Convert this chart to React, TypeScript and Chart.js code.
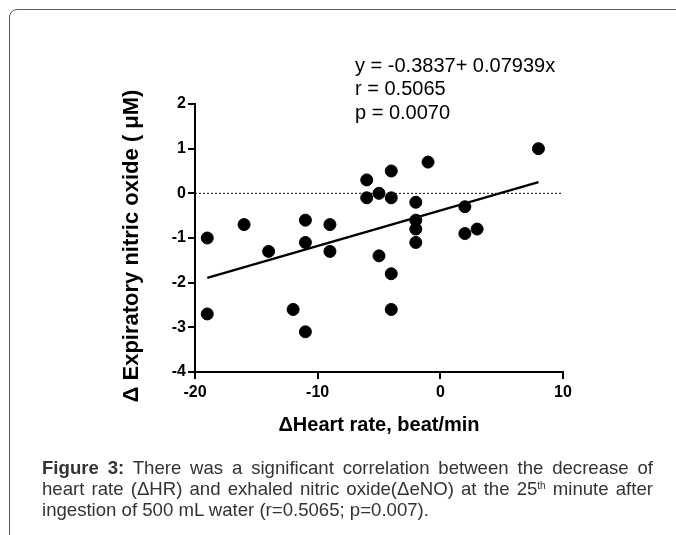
import React, { useEffect, useRef } from "react";
import { Chart, registerables } from "chart.js";

Chart.register(...registerables);

// Data
const xValues = [-19, -19, -16, -14, -12, -11, -11, -11, -9, -9, -6, -6, -5, -5, -4, -4, -4, -4, -1, -2, -2, -2, -2, 2, 2, 3, 8];
const yValues = [-1.0, -2.7, -0.7, -1.3, -2.6, -0.6, -1.1, -3.1, -0.7, -1.3, 0.3, -0.1, 0.0, -1.4, 0.5, -0.1, -1.8, -2.6, 0.7, -0.2, -0.6, -0.8, -1.1, -0.3, -0.9, -0.8, 1.0];
const fitX = [-19, 8];
const fitY = [-1.892, 0.251];
const refX = [-20, 10];
const refY = [0, 0];
const xTicks = [-20, -10, 0, 10];
const yTicks = [-4, -3, -2, -1, 0, 1, 2];
const statLines = ["y = -0.3837+ 0.07939x", "r = 0.5065", "p = 0.0070"];
const xTitle = "\u0394Heart rate, beat/min";
const yTitle = "\u0394 Expiratory nitric oxide ( \u03bcM)";

const FONT = '"Liberation Sans", Arial, Helvetica, sans-serif';

const textPlugin = {
  id: "texts",
  afterDraw(chart: any) {
    const ctx = chart.ctx;
    ctx.save();
    ctx.font = `20px ${FONT}`;
    ctx.fillStyle = "#000";
    ctx.textBaseline = "middle";
    ctx.textAlign = "left";
    statLines.forEach((t, i) => ctx.fillText(t, 355, 66 + i * 23.5));
    // rotated y-axis title
    const area = chart.chartArea;
    ctx.translate(132, (area.top + area.bottom) / 2 + 8);
    ctx.rotate(-Math.PI / 2);
    ctx.font = `bold 22px ${FONT}`;
    ctx.textAlign = "center";
    ctx.fillText(yTitle, 0, 0);
    ctx.restore();
  },
};

export default function App() {
  const ref = useRef<HTMLCanvasElement | null>(null);

  useEffect(() => {
    if (!ref.current) return;
    const pts = (xs: number[], ys: number[]) => xs.map((x, i) => ({ x, y: ys[i] }));
    const chart = new Chart(ref.current, {
      type: "scatter",
      data: {
        datasets: [
          {
            type: "line",
            data: pts(refX, refY),
            borderColor: "#000",
            borderWidth: 1,
            borderDash: [2, 2],
            pointRadius: 0,
            fill: false,
          },
          {
            type: "line",
            data: pts(fitX, fitY),
            borderColor: "#000",
            borderWidth: 2.5,
            pointRadius: 0,
            fill: false,
          },
          {
            data: pts(xValues, yValues),
            backgroundColor: "#000",
            borderColor: "#000",
            pointRadius: 6,
            pointHoverRadius: 6,
          },
        ],
      } as any,
      options: {
        responsive: false,
        animation: false,
        devicePixelRatio: 1,
        layout: { padding: { left: 100, top: 104, right: 113, bottom: 98 } },
        plugins: { legend: { display: false }, tooltip: { enabled: false } },
        events: [],
        scales: {
          x: {
            type: "linear",
            min: -20,
            max: 10,
            afterBuildTicks: (s: any) => {
              s.ticks = xTicks.map((v) => ({ value: v }));
            },
            afterFit: (s: any) => {
              s.height = 65;
            },
            ticks: {
              font: { family: FONT, size: 16, weight: "bold" },
              color: "#000",
              padding: 4,
              maxRotation: 0,
              autoSkip: false,
            },
            grid: {
              display: true,
              drawOnChartArea: false,
              drawTicks: true,
              tickLength: 7,
              color: "#000",
              lineWidth: 2,
            },
            border: { display: true, color: "#000", width: 2 },
            title: {
              display: true,
              text: xTitle,
              font: { family: FONT, size: 20, weight: "bold" },
              color: "#000",
              padding: 0,
            },
          },
          y: {
            type: "linear",
            min: -4,
            max: 2,
            afterBuildTicks: (s: any) => {
              s.ticks = yTicks.map((v) => ({ value: v }));
            },
            afterFit: (s: any) => {
              s.width = 95;
            },
            ticks: {
              font: { family: FONT, size: 16, weight: "bold" },
              color: "#000",
              padding: 2,
              autoSkip: false,
            },
            grid: {
              display: true,
              drawOnChartArea: false,
              drawTicks: true,
              tickLength: 7,
              color: "#000",
              lineWidth: 2,
            },
            border: { display: true, color: "#000", width: 2 },
            title: { display: false },
          },
        },
      } as any,
      plugins: [textPlugin],
    });
    return () => chart.destroy();
  }, []);

  const lineStyle: React.CSSProperties = {
    textAlign: "justify",
    textAlignLast: "justify" as any,
  };

  return (
    <div style={{ position: "fixed", left: 0, top: 0, width: 676, height: 535, background: "#fff", overflow: "hidden" }}>
      <div
        style={{
          position: "absolute",
          left: 9,
          top: 9,
          width: 720,
          height: 600,
          border: "1.5px solid #5a5a5a",
          borderTopLeftRadius: 8,
          boxSizing: "border-box",
        }}
      />
      <canvas ref={ref} width={676} height={535} style={{ position: "absolute", left: 0, top: 0, width: 676, height: 535 }} />
      <div
        style={{
          position: "absolute",
          left: 42,
          top: 457,
          width: 611,
          fontFamily: FONT,
          fontSize: 18.6,
          lineHeight: "21px",
          color: "#333",
        }}
      >
        <div style={lineStyle}>
          <b>Figure 3:</b> There was a significant correlation between the decrease of
        </div>
        <div style={lineStyle}>
          heart rate ({"\u0394"}HR) and exhaled nitric oxide({"\u0394"}eNO) at the 25<sup style={{ fontSize: 10, lineHeight: 0, verticalAlign: "6px" }}>th</sup> minute after
        </div>
        <div>ingestion of 500 mL water (r=0.5065; p=0.007).</div>
      </div>
    </div>
  );
}
